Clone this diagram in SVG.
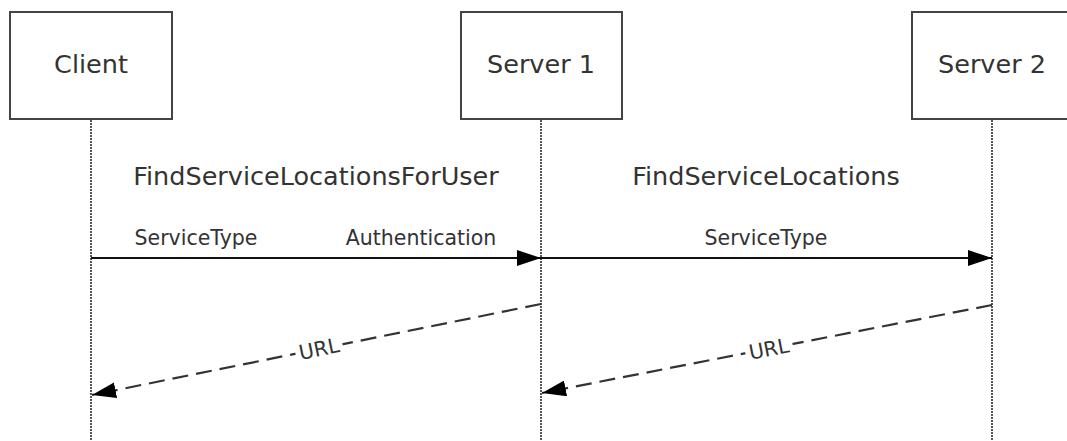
<svg xmlns="http://www.w3.org/2000/svg" width="1067" height="441" viewBox="0 0 1067 441">
<style>
.box{fill:#fff;stroke:#444;stroke-width:2}
.life{stroke:#555;stroke-width:2;stroke-dasharray:2 1}
.title{font-family:"DejaVu Sans",Verdana,sans-serif;font-size:25.5px;fill:#333;text-anchor:middle}
.lbl{font-family:"DejaVu Sans",Verdana,sans-serif;font-size:20.5px;fill:#333;text-anchor:middle}
.msg{stroke:#111;stroke-width:2;fill:none}
.ret{stroke:#333;stroke-width:2.2;fill:none;stroke-dasharray:16 8}
</style>
<defs>
<marker id="ah" markerWidth="24" markerHeight="16" refX="24" refY="8" orient="auto" markerUnits="userSpaceOnUse">
<path d="M0,0 L24,8 L0,16 Z" fill="#000"/>
</marker>
</defs>
<rect width="1067" height="441" fill="#fff"/>
<g id="lifelines">
<line class="life" x1="91" y1="120" x2="91" y2="441"/>
<line class="life" x1="541" y1="120" x2="541" y2="441"/>
<line class="life" x1="992" y1="120" x2="992" y2="441"/>
</g>
<g id="client">
<rect class="box" x="10" y="12" width="162" height="107"/>
<text class="title" x="91" y="73">Client</text>
</g>
<g id="server1">
<rect class="box" x="461" y="12" width="161" height="107"/>
<text class="title" x="541" y="73">Server 1</text>
</g>
<g id="server2">
<rect class="box" x="912" y="12" width="162" height="107"/>
<text class="title" x="992" y="73">Server 2</text>
</g>
<g id="connectors">
<line class="msg" x1="91" y1="258" x2="541" y2="258" marker-end="url(#ah)"/>
<line class="msg" x1="541" y1="258" x2="992" y2="258" marker-end="url(#ah)"/>
<line class="ret" x1="541" y1="304" x2="92" y2="395" marker-end="url(#ah)"/>
<line class="ret" x1="992" y1="305" x2="542" y2="393" marker-end="url(#ah)"/>
</g>
<g id="labels">
<text class="title" x="316" y="185">FindServiceLocationsForUser</text>
<text class="title" x="766" y="185">FindServiceLocations</text>
<text class="lbl" x="196" y="245">ServiceType</text>
<text class="lbl" x="421" y="245">Authentication</text>
<text class="lbl" x="766" y="245">ServiceType</text>
<g transform="translate(319,349) rotate(-11.5)">
<rect x="-24" y="-11" width="48" height="22" fill="#fff"/>
<text class="lbl" x="0" y="7">URL</text>
</g>
<g transform="translate(769,349) rotate(-11)">
<rect x="-24" y="-11" width="48" height="22" fill="#fff"/>
<text class="lbl" x="0" y="7">URL</text>
</g>
</g>
</svg>
